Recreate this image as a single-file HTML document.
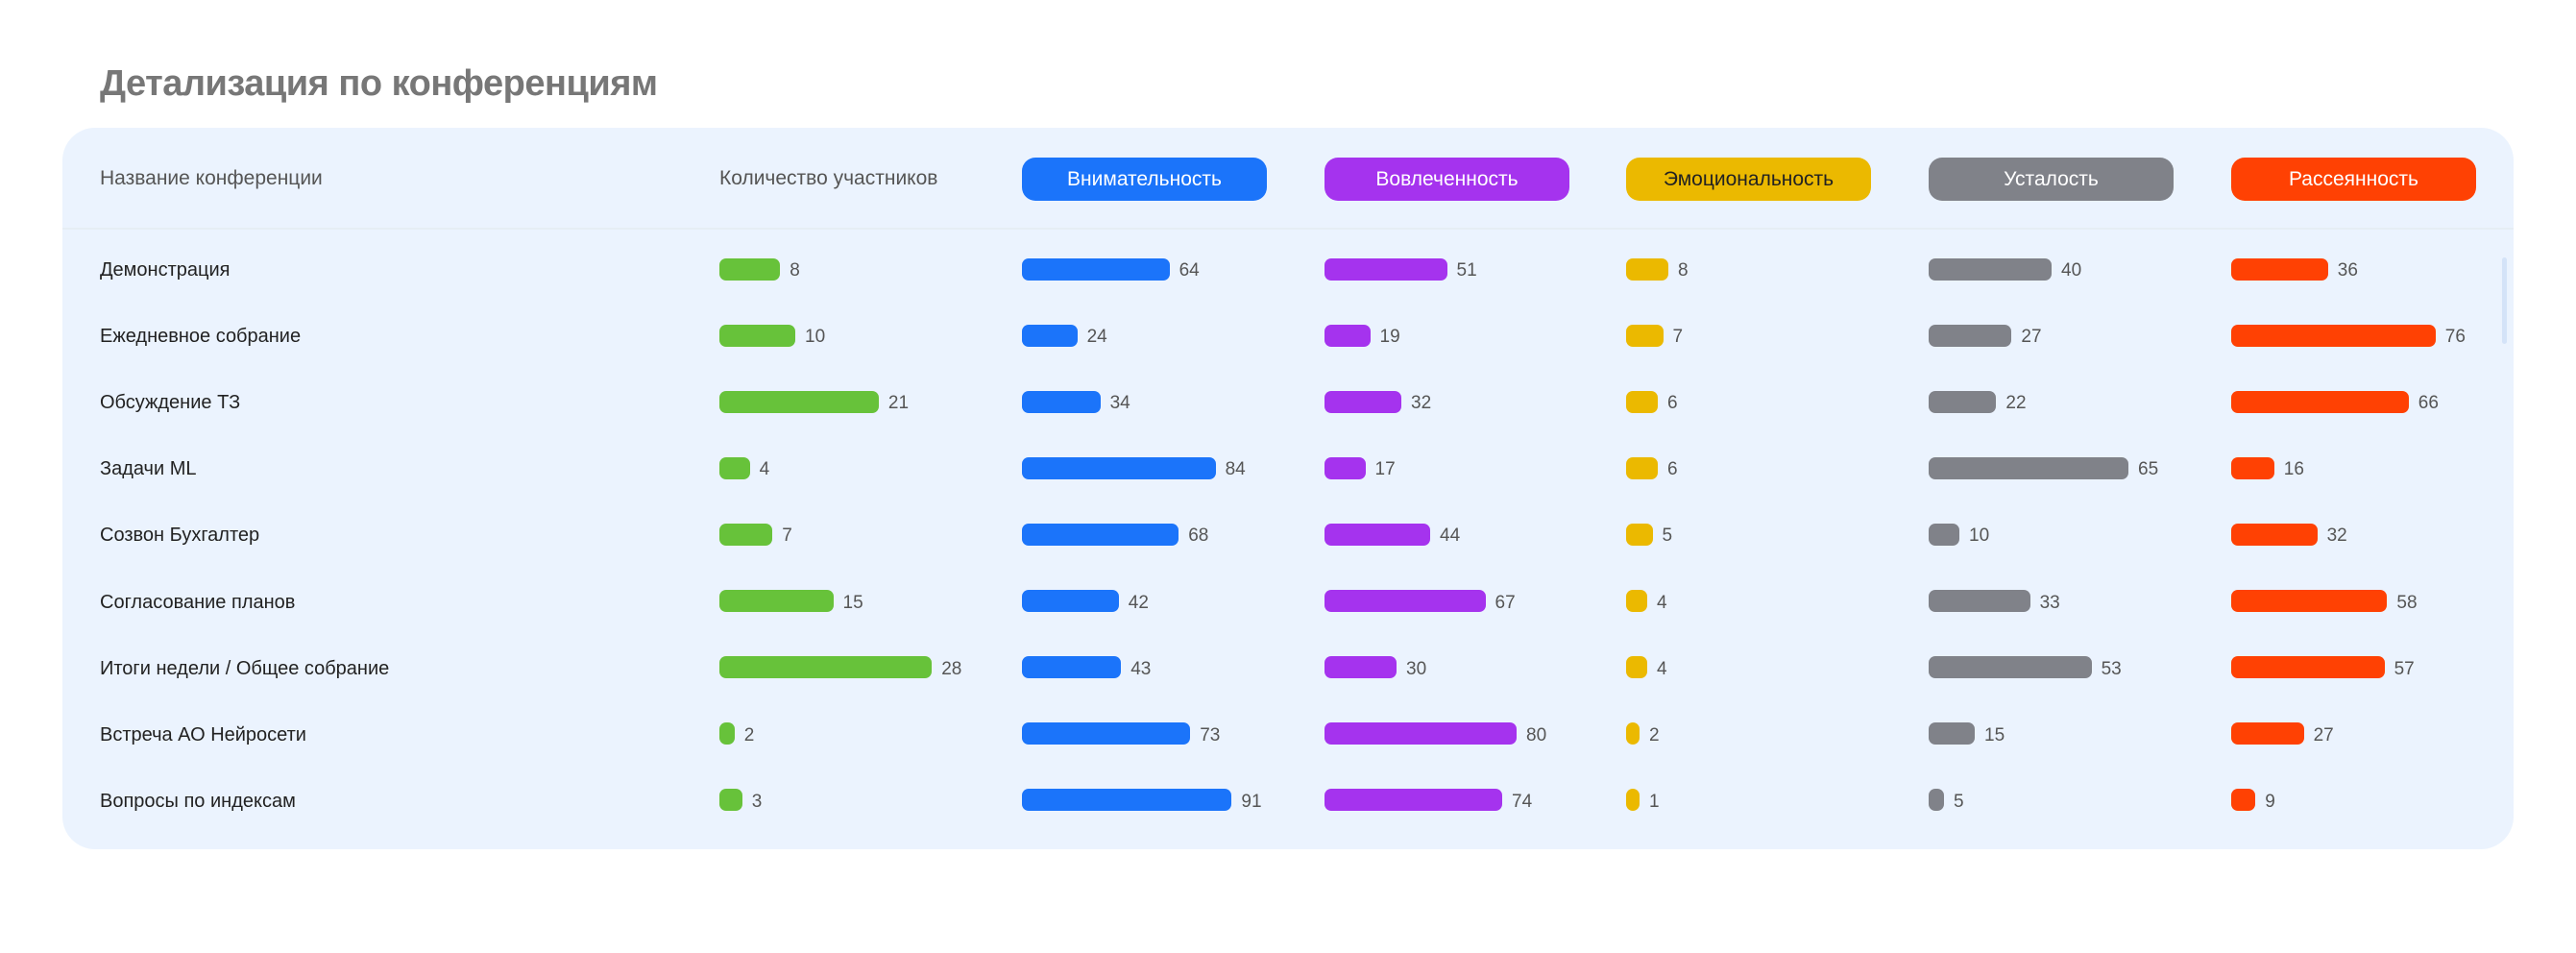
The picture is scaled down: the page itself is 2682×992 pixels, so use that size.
<!DOCTYPE html>
<html><head><meta charset="utf-8"><style>
body{margin:0;width:2682px;height:992px;background:#fff;font-family:"Liberation Sans","DejaVu Sans",sans-serif;position:relative;overflow:hidden}
.title{position:absolute;left:104px;top:66px;font-size:38px;font-weight:bold;color:#777;letter-spacing:-0.5px}
.panel{position:absolute;left:65px;top:133px;width:2552px;height:751px;background:#ebf3fe;border-radius:34px}
.hdr{position:absolute;top:174px;font-size:21px;color:#555}
.pill{position:absolute;top:164px;width:255px;height:45px;border-radius:14px;color:#fff;font-size:21px;display:flex;align-items:center;justify-content:center}
.div{position:absolute;left:65px;top:237px;width:2552px;height:2px;background:#e6eef4}
.name{position:absolute;font-size:20px;color:#222}
.bar{position:absolute;height:23px;border-radius:7px}
.val{position:absolute;font-size:19px;color:#555}
.scroll{position:absolute;left:2605px;top:268px;width:5px;height:90px;border-radius:3px;background:#d4e3f8}
</style></head><body>
<div class="title">Детализация по конференциям</div>
<div class="panel"></div>
<div class="hdr" style="left:104px">Название конференции</div>
<div class="hdr" style="left:749px">Количество участников</div>
<div class="pill" style="left:1064px;background:#1b74fa">Внимательность</div>
<div class="pill" style="left:1379px;background:#a533ee">Вовлеченность</div>
<div class="pill" style="left:1693px;background:#ebb900;color:#222">Эмоциональность</div>
<div class="pill" style="left:2008px;background:#808289">Усталость</div>
<div class="pill" style="left:2323px;background:#ff4103">Рассеянность</div>
<div class="div"></div>
<div class="scroll"></div>
<div id="rows"></div>
<script>
const names = ["Демонстрация","Ежедневное собрание","Обсуждение ТЗ","Задачи ML","Созвон Бухгалтер","Согласование планов","Итоги недели / Общее собрание","Встреча АО Нейросети","Вопросы по индексам"];
const participants = [8,10,21,4,7,15,28,2,3];
const attention = [64,24,34,84,68,42,43,73,91];
const engagement = [51,19,32,17,44,67,30,80,74];
const emotionality = [8,7,6,6,5,4,4,2,1];
const fatigue = [40,27,22,65,10,33,53,15,5];
const distraction = [36,76,66,16,32,58,57,27,9];

const series = [
 {d:participants, x:749, k:7.9, c:'#67c23a', n:'participants'},
 {d:attention, x:1064, k:2.4, c:'#1b74fa', n:'attention'},
 {d:engagement, x:1379, k:2.5, c:'#a533ee', n:'engagement'},
 {d:emotionality, x:1693, k:5.5, c:'#ebb900', n:'emotionality'},
 {d:fatigue, x:2008, k:3.2, c:'#808289', n:'fatigue'},
 {d:distraction, x:2323, k:2.8, c:'#ff4103', n:'distraction'}
];
const root = document.getElementById('rows');
function rowY(i){return 280 + i*69.1;}
names.forEach((nm,i)=>{
  const y = rowY(i);
  const t = document.createElement('div');
  t.className='name'; t.style.left='104px'; t.style.top=(y-10)+'px'; t.textContent=nm;
  
  
  root.appendChild(t);
  series.forEach(s=>{
    const v = s.d[i];
    const w = Math.max(14, v*s.k);
    const b = document.createElement('div');
    b.className='bar'; b.style.left=s.x+'px'; b.style.top=(y-11.5)+'px'; b.style.width=w+'px'; b.style.background=s.c;
    
    
    root.appendChild(b);
    const l = document.createElement('div');
    l.className='val'; l.style.left=(s.x+w+10)+'px'; l.style.top=(y-9)+'px'; l.textContent=v;
    
    
    root.appendChild(l);
  });
});
</script>
</body></html>
